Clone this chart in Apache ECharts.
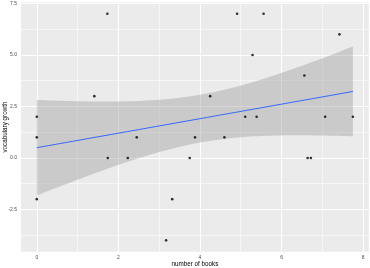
<!DOCTYPE html>
<html><head><meta charset="utf-8">
<script src="https://cdn.jsdelivr.net/npm/echarts@6/dist/echarts.min.js"></script>
<style>html,body{margin:0;padding:0;background:#fff}#c{width:370px;height:268px}</style>
</head><body><div id="c"></div>
<script>
// number of books (x) and vocabulary growth (y)
const books = [0,0,0,1.41,1.73,1.74,2.23,2.45,3.17,3.32,3.75,3.88,4.25,4.6,4.91,5.11,5.29,5.39,5.56,6.56,6.64,6.72,7.07,7.42,7.75];
const growth = [2,1,-2,3,7,0,0,1,-4,-2,0,1,3,1,7,2,5,2,7,4,0,0,2,6,2];
const xTicks = [0,2,4,6,8];
const yTicks = [-2.5,0,2.5,5,7.5];
const xMinor = [1,3,5,7];
const yMinor = [-3.75,-1.25,1.25,3.75,6.25];

// linear model fit with 95% confidence band (like geom_smooth(method="lm"))
const n = books.length;
const mx = books.reduce((a,b)=>a+b,0)/n;
const my = growth.reduce((a,b)=>a+b,0)/n;
let sxx=0, sxy=0;
for (let i=0;i<n;i++){ sxx += (books[i]-mx)**2; sxy += (books[i]-mx)*(growth[i]-my); }
const slope = sxy/sxx, icept = my - slope*mx;
let sse=0;
for (let i=0;i<n;i++){ sse += (growth[i]-icept-slope*books[i])**2; }
const s = Math.sqrt(sse/(n-2));
const tcrit = 2.069;
const xLo = Math.min(...books), xHi = Math.max(...books);
const fit=[], band=[];
for (let k=0;k<=80;k++){
  const x = xLo + (xHi-xLo)*k/80;
  const yh = icept + slope*x;
  const se = s*Math.sqrt(1/n + (x-mx)**2/sxx);
  fit.push([x,yh]);
  band.push([x, yh - tcrit*se, yh + tcrit*se]);
}
const pts = books.map((x,i)=>[x,growth[i]]);

const gridLines = [];
xTicks.forEach(v=>gridLines.push({xAxis:v, lineStyle:{width:1.1}}));
yTicks.forEach(v=>gridLines.push({yAxis:v, lineStyle:{width:1.1}}));
xMinor.forEach(v=>gridLines.push({xAxis:v, lineStyle:{width:0.55}}));
yMinor.forEach(v=>gridLines.push({yAxis:v, lineStyle:{width:0.55}}));

const chart = echarts.init(document.getElementById('c'), null, {renderer:'canvas'});
const lblStyle = {color:'#4D4D4D', fontSize:5, fontFamily:'Liberation Sans'};
chart.setOption({
  animation:false,
  grid:{left:21, right:1.3, top:2.4, bottom:16.3, show:true, backgroundColor:'#EBEBEB', borderWidth:0,
        containLabel:false, outerBoundsMode:'none'},
  xAxis:{
    type:'value', min:-0.3875, max:8.1375,
    name:'number of books', nameLocation:'middle', nameGap:9.5, nameMoveOverlap:false,
    nameTextStyle:{color:'#000', fontSize:6.3, fontFamily:'Liberation Sans'},
    axisLine:{show:false},
    axisTick:{show:true, length:2, customValues:xTicks, lineStyle:{color:'#333', width:0.6}},
    axisLabel:Object.assign({customValues:xTicks, margin:3.5, formatter:v=>String(v)}, lblStyle),
    splitLine:{show:false}
  },
  yAxis:{
    type:'value', min:-4.55, max:7.55,
    name:'vocabulary growth', nameLocation:'middle', nameGap:13, nameMoveOverlap:false,
    nameTextStyle:{color:'#000', fontSize:6.3, fontFamily:'Liberation Sans'},
    axisLine:{show:false},
    axisTick:{show:true, length:2, customValues:yTicks, lineStyle:{color:'#333', width:0.6}},
    axisLabel:Object.assign({customValues:yTicks, margin:4, formatter:v=>v.toFixed(1)}, lblStyle),
    splitLine:{show:false}
  },
  series:[
    {type:'scatter', data:[], silent:true, z:1,
     markLine:{silent:true, z:1, symbol:'none', label:{show:false}, animation:false,
       lineStyle:{color:'#FFFFFF', type:'solid'}, data:gridLines}},
    {type:'custom', z:2, silent:true, data:band,
     renderItem:function(params, api){
       if (params.dataIndex !== 0) return null;
       const up=[], lo=[];
       for (let i=0;i<band.length;i++){
         up.push(api.coord([band[i][0], band[i][2]]));
         lo.push(api.coord([band[i][0], band[i][1]]));
       }
       return {type:'polygon', shape:{points: up.concat(lo.reverse())},
               style:{fill:'rgba(153,153,153,0.4)'}};
     }},
    {type:'line', z:3, data:fit, showSymbol:false, symbol:'none', silent:true,
     lineStyle:{color:'#3366FF', width:1}},
    {type:'scatter', z:4, data:pts, symbol:'circle', symbolSize:2.6,
     itemStyle:{color:'#000'}}
  ]
});
</script></body></html>
